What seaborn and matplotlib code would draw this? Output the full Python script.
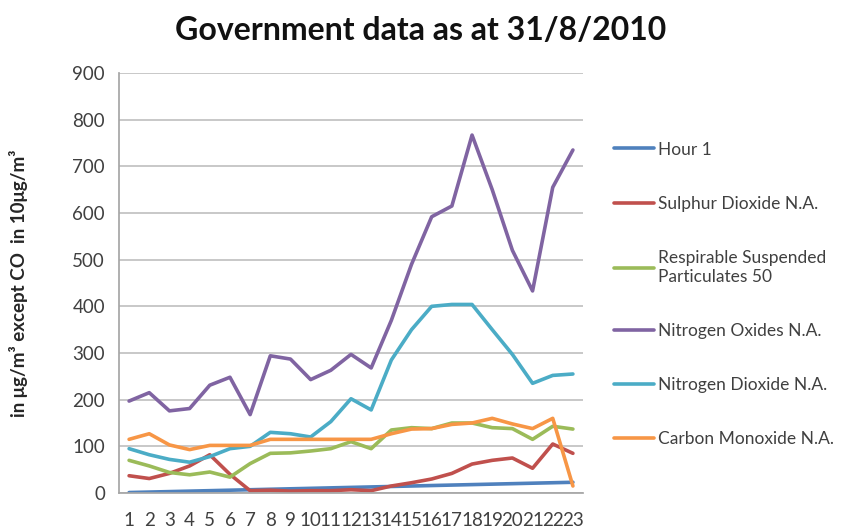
import matplotlib
matplotlib.use("Agg")
import matplotlib.pyplot as plt
import seaborn as sns
import pandas as pd

hours = list(range(1, 24))
hour_1 = [1, 2, 3, 4, 5, 6, 7, 8, 9, 10, 11, 12, 13, 14, 15, 16, 17, 18, 19, 20, 21, 22, 23]
sulphur_dioxide = [37, 31, 42, 58, 82, 40, 5, 6, 4, 5, 5, 7, 5, 15, 22, 30, 42, 62, 70, 75, 53, 105, 85]
rsp = [70, 58, 44, 39, 45, 34, 63, 85, 86, 90, 95, 110, 95, 135, 140, 138, 150, 150, 140, 138, 115, 143, 137]
nitrogen_oxides = [197, 215, 176, 181, 231, 248, 168, 294, 287, 243, 263, 297, 268, 370, 490, 592, 615, 767, 650, 520, 433, 655, 735]
nitrogen_dioxide = [95, 82, 72, 66, 78, 95, 100, 130, 127, 120, 153, 202, 178, 285, 350, 400, 404, 404, 350, 297, 235, 252, 255]
carbon_monoxide = [115, 127, 103, 93, 102, 102, 102, 115, 115, 115, 115, 115, 115, 127, 137, 138, 147, 150, 160, 148, 138, 160, 15]

series_names = ["Hour 1", "Sulphur Dioxide N.A.", "Respirable Suspended\nParticulates 50",
                "Nitrogen Oxides N.A.", "Nitrogen Dioxide N.A.", "Carbon Monoxide N.A."]
series_values = [hour_1, sulphur_dioxide, rsp, nitrogen_oxides, nitrogen_dioxide, carbon_monoxide]
colors = ["#4F81BD", "#C0504D", "#9BBB59", "#8064A2", "#4BACC6", "#F79646"]

rows = []
for name, vals in zip(series_names, series_values):
    for h, v in zip(hours, vals):
        rows.append({"hour": h, "value": v, "series": name})
df = pd.DataFrame(rows)

sns.set_theme(style="white")
plt.rcParams["font.family"] = ["Lato", "DejaVu Sans"]

fig = plt.figure(figsize=(8.42, 5.32), dpi=100)
ax = fig.add_axes([119/842, 39/532, 464/842, 420/532])

sns.lineplot(data=df, x="hour", y="value", hue="series", hue_order=series_names,
             palette=dict(zip(series_names, colors)), linewidth=2.6, ax=ax, legend=True)

ax.set_xlim(0.5, 23.5)
ax.set_ylim(0, 900)
ax.set_yticks(range(0, 901, 100))
ax.set_xticks(hours)
ax.set_xticklabels([str(h) for h in hours])
ax.yaxis.grid(True, color="#BFBFBF", linewidth=1.2)
ax.set_axisbelow(True)
for s in ["top", "right"]:
    ax.spines[s].set_visible(False)
ax.spines["left"].set_color("#A6A6A6")
ax.spines["bottom"].set_color("#A6A6A6")
ax.tick_params(axis="x", length=0, pad=14, labelsize=13.5, labelcolor="#404040")
ax.tick_params(axis="y", length=0, pad=10, labelsize=13.5, labelcolor="#404040")
ax.set_xlabel("")
ax.set_ylabel("in \u03bcg/m\u00b3 except CO  in 10\u03bcg/m\u00b3", fontsize=13.5, fontweight="bold",
              color="#262626")
ax.yaxis.set_label_coords(-0.196, 0.5)

fig.text(0.5, 0.943, "Government data as at 31/8/2010", ha="center", va="center",
         fontsize=23, fontweight="bold", color="#111111")

handles, labels = ax.get_legend_handles_labels()
leg = ax.legend(handles, labels, loc="upper left", bbox_to_anchor=(1.034, 0.874),
                frameon=False, fontsize=12.5, labelspacing=2.2, handlelength=2.3,
                handletextpad=0.2, labelcolor="#404040")
for line in leg.get_lines():
    line.set_linewidth(2.6)

fig.savefig("out.png", dpi=100)
